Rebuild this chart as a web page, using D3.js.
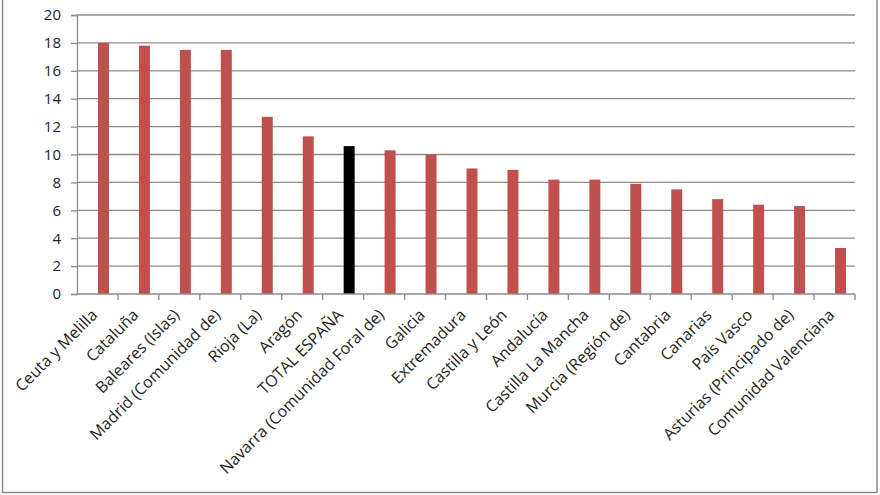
<!DOCTYPE html>
<html>
<head>
<meta charset="utf-8">
<script src="https://cdn.jsdelivr.net/npm/d3@7"></script>
<style>
  body { margin: 0; background: #fff; }
  #chart { width: 880px; height: 495px; }
  .tick text { font-family: "Open Sans", Lato, sans-serif; fill: #1e1e1e; }
</style>
</head>
<body>
<div id="chart"></div>
<script>
var regions = ["Ceuta y Melilla", "Cataluña", "Baleares (Islas)", "Madrid (Comunidad de)", "Rioja (La)",
    "Aragón", "TOTAL ESPAÑA", "Navarra (Comunidad Foral de)", "Galicia", "Extremadura",
    "Castilla y León", "Andalucía", "Castilla  La Mancha", "Murcia (Región de)", "Cantabria",
    "Canarias", "País Vasco", "Asturias (Principado de)", "Comunidad Valenciana"]
var values = [18.0, 17.8, 17.5, 17.5, 12.7, 11.3, 10.6, 10.3, 10.0, 9.0,
    8.9, 8.2, 8.2, 7.9, 7.5, 6.8, 6.4, 6.3, 3.3]
var yTicks = [0, 2, 4, 6, 8, 10, 12, 14, 16, 18, 20]
var highlight = "TOTAL ESPAÑA"

var width = 880, height = 495
const margin = {top: 15, right: 25, bottom: 201, left: 77}

var svg = d3.select("#chart")
    .append("svg")
    .attr("width", width)
    .attr("height", height)
    .attr("display", "block")

// outer chart border (top edge lies off the picture)
svg.append("rect")
    .attr("x", 2.5)
    .attr("y", -5)
    .attr("width", 874.5)
    .attr("height", 497.5)
    .attr("fill", "none")
    .attr("stroke", "#8a8a8a")
    .attr("stroke-width", 1.5)

var xScale = d3.scaleBand()
    .domain(regions)
    .range([margin.left, width - margin.right])
    .padding(0)

var yScale = d3.scaleLinear()
    .domain([0, 20])
    .range([height - margin.bottom, margin.top])

// gridlines
svg.append("g")
    .selectAll("line")
    .data(yTicks.slice(1))
    .enter()
    .append("line")
    .attr("x1", margin.left)
    .attr("x2", width - margin.right)
    .attr("y1", function(d) { return yScale(d) })
    .attr("y2", function(d) { return yScale(d) })
    .attr("stroke", "#8c8c8c")
    .attr("stroke-width", 1.3)

// bars (sit right of the category centre, as in the original)
var bw = xScale.bandwidth()
var barW = 11
svg.append("g")
    .selectAll("rect")
    .data(values)
    .enter()
    .append("rect")
    .attr("x", function(d, i) { return xScale(regions[i]) + bw / 2 + 0.5 })
    .attr("y", function(d) { return yScale(d) })
    .attr("width", barW)
    .attr("height", function(d) { return yScale(0) - yScale(d) })
    .attr("fill", function(d, i) { return regions[i] === highlight ? "#000" : "#c0504d" })

// y axis
var yAxis = d3.axisLeft(yScale)
    .tickValues(yTicks)
    .tickSize(6)
    .tickPadding(10)
    .tickFormat(d3.format("d"))
var yG = svg.append("g")
    .attr("transform", "translate(" + margin.left + ",0)")
    .call(yAxis)
yG.select(".domain").attr("stroke", "#8c8c8c").attr("stroke-width", 1.3)
yG.selectAll(".tick line").attr("stroke", "#8c8c8c").attr("stroke-width", 1.3)
yG.selectAll(".tick text").style("font-size", "15px")

// x axis: ticks between categories
var xG = svg.append("g")
    .attr("transform", "translate(0," + yScale(0) + ")")
xG.append("line")
    .attr("x1", margin.left)
    .attr("x2", width - margin.right)
    .attr("stroke", "#8c8c8c")
    .attr("stroke-width", 1.3)
xG.selectAll(".xtick")
    .data(regions)
    .enter()
    .append("line")
    .attr("class", "xtick")
    .attr("x1", function(d) { return xScale(d) + bw })
    .attr("x2", function(d) { return xScale(d) + bw })
    .attr("y1", 0)
    .attr("y2", 6)
    .attr("stroke", "#8c8c8c")
    .attr("stroke-width", 1.3)

xG.selectAll(".xlabel")
    .data(regions)
    .enter()
    .append("text")
    .attr("class", "xlabel")
    .attr("transform", function(d) { return "translate(" + (xScale(d) + bw / 2 + 1) + ",22) rotate(-45)" })
    .attr("text-anchor", "end")
    .style("font-family", "'Open Sans', Lato, sans-serif")
    .style("font-size", "16px")
    .attr("fill", "#1e1e1e")
    .text(function(d) { return d })
</script>
</body>
</html>
